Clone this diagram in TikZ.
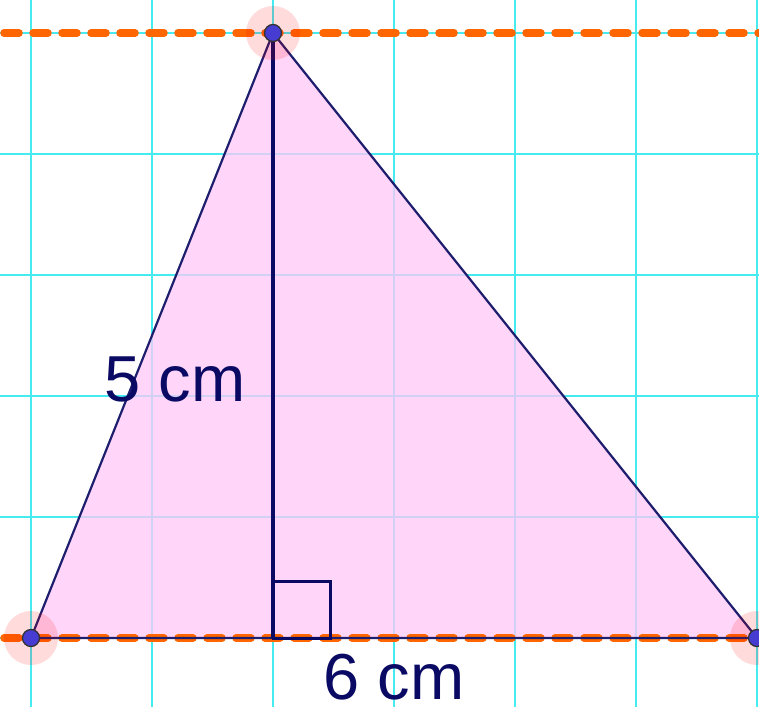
\documentclass[tikz,border=0pt]{standalone}
\usepackage{fontspec}
\setmainfont{Liberation Sans}
\definecolor{gridc}{RGB}{70,235,240}
\definecolor{fillc}{RGB}{255,201,248}
\definecolor{navy}{RGB}{10,10,100}
\definecolor{edgec}{RGB}{30,30,110}
\definecolor{orangec}{RGB}{255,102,0}
\definecolor{ptc}{RGB}{70,60,210}
\begin{document}
\begin{tikzpicture}[x=1pt,y=-1pt,
  gridline/.style={draw=gridc,line width=2pt},
  guide/.style={draw=orangec,line width=7.5pt,line cap=round,dash pattern=on 15pt off 14pt,dash phase=-4pt},
  edge/.style={draw=edgec,line width=2.2pt},
  halo/.style={fill=red,fill opacity=0.14},
  pt/.style={circle,fill=ptc,draw=black!80,line width=1.3pt,minimum size=17pt,inner sep=0pt},
  lbl/.style={text=navy,font=\fontsize{65}{65}\selectfont,inner sep=0pt}]
\useasboundingbox (0,0) rectangle (759,707);
\fill[white] (0,0) rectangle (759,707);
% grid
\foreach \x in {31,152,273,394,515,636,757} \draw[gridline] (\x,0) -- (\x,707);
\foreach \y in {33,154,275,396,517,638} \draw[gridline] (0,\y) -- (759,\y);
% coordinates
\coordinate (A) at (31,638);
\coordinate (B) at (273,33);
\coordinate (C) at (757,638);
\coordinate (H) at (273,638);
\coordinate (L1) at (0,33);
\coordinate (R1) at (759,33);
\coordinate (L2) at (0,638);
\coordinate (R2) at (759,638);
% triangle fill
\fill[fillc,fill opacity=0.75] (A) -- (B) -- (C) -- cycle;
% dashed guides
\draw[guide] (L1) -- (R1);
\draw[guide] (L2) -- (R2);
% edges
\draw[edge,line join=round] (A) -- (B) -- (C) -- cycle;
\draw[draw=navy,line width=4.5pt] (B) -- (H);
\draw[draw=navy,line width=3pt] (H) rectangle ++(57,-57);
% halos and points
\foreach \p in {A,B,C} \fill[halo] (\p) circle (27pt);
\node[pt] (pA) at (A) {};
\node[pt] (pB) at (B) {};
\node[pt] (pC) at (C) {};
% labels
\node[lbl] (l5) at (175,379) {5 cm};
\node[lbl] (l6) at (394,677) {6 cm};
\end{tikzpicture}
\end{document}
